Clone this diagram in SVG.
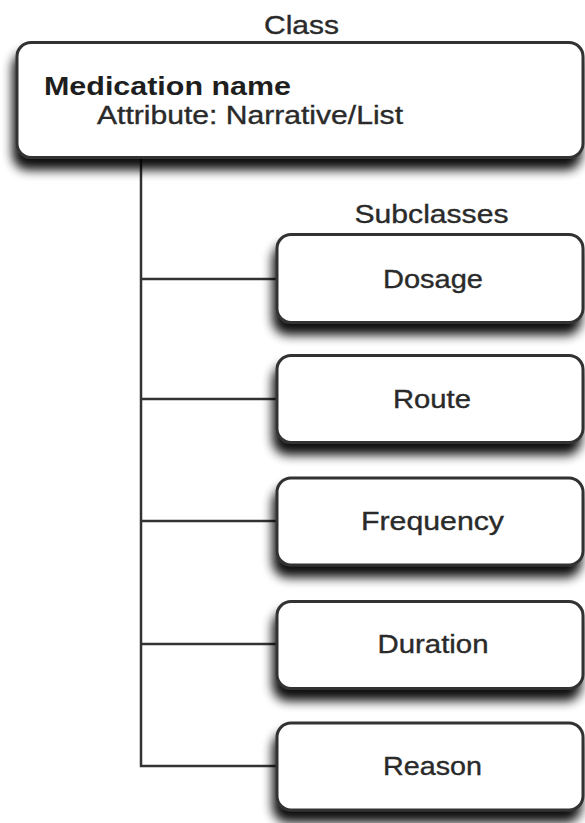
<svg xmlns="http://www.w3.org/2000/svg" width="585" height="823" viewBox="0 0 585 823">
  <style>
    .box { fill: #ffffff; stroke: #333333; stroke-width: 3; filter: url(#shadow); }
    .wire { fill: none; stroke: #333333; stroke-width: 2.5; }
    .lbl { font-family: "Liberation Sans", Arial, Helvetica, sans-serif; font-size: 25px; fill: #2a2a2a; stroke: #2a2a2a; stroke-width: 0.35; }
    .mid { text-anchor: middle; }
    .bold { font-weight: bold; fill: #1e1e1e; stroke: none; }
  </style>
  <defs>
    <filter id="shadow" x="-10%" y="-20%" width="120%" height="170%">
      <feGaussianBlur in="SourceAlpha" stdDeviation="5.5"/>
      <feOffset dx="-3" dy="11" result="blur"/>
      <feComponentTransfer><feFuncA type="linear" slope="0.95"/></feComponentTransfer>
      <feMerge>
        <feMergeNode/>
        <feMergeNode in="SourceGraphic"/>
      </feMerge>
    </filter>
  </defs>

  <rect width="585" height="823" fill="#ffffff"/>

  <!-- connectors: trunk from the class box and a branch to each subclass -->
  <g id="connectors">
    <path class="wire" d="M141 157 V766 H277"/>
    <path class="wire" d="M141 279 H277"/>
    <path class="wire" d="M141 399 H277"/>
    <path class="wire" d="M141 521 H277"/>
    <path class="wire" d="M141 644 H277"/>
  </g>

  <text class="lbl mid" x="301.5" y="34" textLength="75" lengthAdjust="spacingAndGlyphs">Class</text>

  <g id="medication-name">
    <rect class="box" x="17" y="42.5" width="566" height="115" rx="14"/>
    <text class="lbl bold" x="44" y="95" textLength="247" lengthAdjust="spacingAndGlyphs">Medication name</text>
    <text class="lbl" x="97" y="124" textLength="306" lengthAdjust="spacingAndGlyphs">Attribute: Narrative/List</text>
  </g>

  <text class="lbl mid" x="431.5" y="223" textLength="154" lengthAdjust="spacingAndGlyphs">Subclasses</text>

  <g id="dosage">
    <rect class="box" x="277" y="234.5" width="306" height="88" rx="14"/>
    <text class="lbl mid" x="433" y="288" textLength="100" lengthAdjust="spacingAndGlyphs">Dosage</text>
  </g>

  <g id="route">
    <rect class="box" x="277" y="355.5" width="306" height="87" rx="14"/>
    <text class="lbl mid" x="432" y="408" textLength="78" lengthAdjust="spacingAndGlyphs">Route</text>
  </g>

  <g id="frequency">
    <rect class="box" x="277" y="478" width="306" height="87" rx="14"/>
    <text class="lbl mid" x="432.5" y="530" textLength="143" lengthAdjust="spacingAndGlyphs">Frequency</text>
  </g>

  <g id="duration">
    <rect class="box" x="277" y="601.5" width="306" height="87" rx="14"/>
    <text class="lbl mid" x="433" y="653" textLength="111" lengthAdjust="spacingAndGlyphs">Duration</text>
  </g>

  <g id="reason">
    <rect class="box" x="277" y="723" width="306" height="87" rx="14"/>
    <text class="lbl mid" x="432.5" y="775" textLength="99" lengthAdjust="spacingAndGlyphs">Reason</text>
  </g>
</svg>
